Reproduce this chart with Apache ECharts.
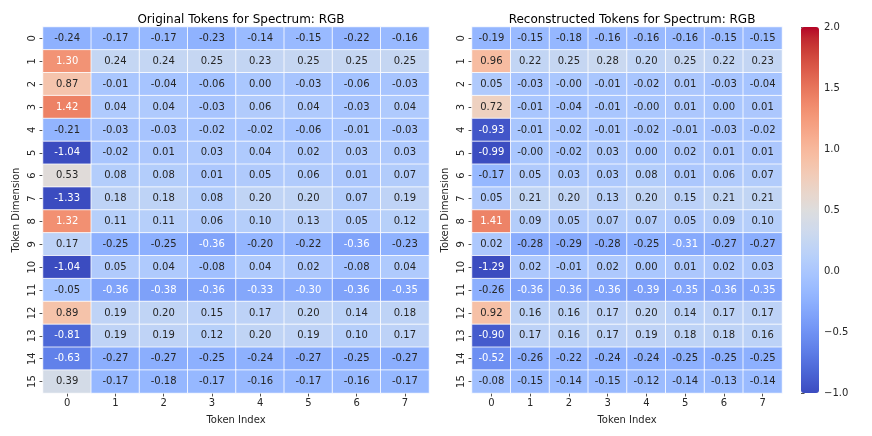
<!DOCTYPE html>
<html>
<head>
<meta charset="utf-8">
<script src="https://cdn.jsdelivr.net/npm/echarts@6/dist/echarts.min.js"></script>
<style>
  html, body { margin: 0; padding: 0; background: #fff; }
  #chart { width: 872px; height: 436px; }
</style>
</head>
<body>
<div id="chart"></div>
<script>
// token index (columns) and token dimension (rows)
var tokenIndex = ['0', '1', '2', '3', '4', '5', '6', '7'];
var tokenDim = ['0', '1', '2', '3', '4', '5', '6', '7', '8', '9', '10', '11', '12', '13', '14', '15'];

// original tokens, one row per dimension
var original = [
  [-0.24, -0.17, -0.17, -0.23, -0.14, -0.15, -0.22, -0.16],
  [1.30, 0.24, 0.24, 0.25, 0.23, 0.25, 0.25, 0.25],
  [0.87, -0.01, -0.04, -0.06, 0.00, -0.03, -0.06, -0.03],
  [1.42, 0.04, 0.04, -0.03, 0.06, 0.04, -0.03, 0.04],
  [-0.21, -0.03, -0.03, -0.02, -0.02, -0.06, -0.01, -0.03],
  [-1.04, -0.02, 0.01, 0.03, 0.04, 0.02, 0.03, 0.03],
  [0.53, 0.08, 0.08, 0.01, 0.05, 0.06, 0.01, 0.07],
  [-1.33, 0.18, 0.18, 0.08, 0.20, 0.20, 0.07, 0.19],
  [1.32, 0.11, 0.11, 0.06, 0.10, 0.13, 0.05, 0.12],
  [0.17, -0.25, -0.25, -0.36, -0.20, -0.22, -0.36, -0.23],
  [-1.04, 0.05, 0.04, -0.08, 0.04, 0.02, -0.08, 0.04],
  [-0.05, -0.36, -0.38, -0.36, -0.33, -0.30, -0.36, -0.35],
  [0.89, 0.19, 0.20, 0.15, 0.17, 0.20, 0.14, 0.18],
  [-0.81, 0.19, 0.19, 0.12, 0.20, 0.19, 0.10, 0.17],
  [-0.63, -0.27, -0.27, -0.25, -0.24, -0.27, -0.25, -0.27],
  [0.39, -0.17, -0.18, -0.17, -0.16, -0.17, -0.16, -0.17]
];

// reconstructed tokens (-0.001 stands for the cells printed as -0.00)
var reconstructed = [
  [-0.19, -0.15, -0.18, -0.16, -0.16, -0.16, -0.15, -0.15],
  [0.96, 0.22, 0.25, 0.28, 0.20, 0.25, 0.22, 0.23],
  [0.05, -0.03, -0.001, -0.01, -0.02, 0.01, -0.03, -0.04],
  [0.72, -0.01, -0.04, -0.01, -0.001, 0.01, 0.00, 0.01],
  [-0.93, -0.01, -0.02, -0.01, -0.02, -0.01, -0.03, -0.02],
  [-0.99, -0.001, -0.02, 0.03, 0.00, 0.02, 0.01, 0.01],
  [-0.17, 0.05, 0.03, 0.03, 0.08, 0.01, 0.06, 0.07],
  [0.05, 0.21, 0.20, 0.13, 0.20, 0.15, 0.21, 0.21],
  [1.41, 0.09, 0.05, 0.07, 0.07, 0.05, 0.09, 0.10],
  [0.02, -0.28, -0.29, -0.28, -0.25, -0.31, -0.27, -0.27],
  [-1.29, 0.02, -0.01, 0.02, 0.00, 0.01, 0.02, 0.03],
  [-0.26, -0.36, -0.36, -0.36, -0.39, -0.35, -0.36, -0.35],
  [0.92, 0.16, 0.16, 0.17, 0.20, 0.14, 0.17, 0.17],
  [-0.90, 0.17, 0.16, 0.17, 0.19, 0.18, 0.18, 0.16],
  [-0.52, -0.26, -0.22, -0.24, -0.24, -0.25, -0.25, -0.25],
  [-0.08, -0.15, -0.14, -0.15, -0.12, -0.14, -0.13, -0.14]
];

// matplotlib coolwarm
var coolwarm = [
  '#3b4cc0', '#445acc', '#4d68d7', '#5775e1', '#6282ea', '#6c8ef1', '#779af7', '#82a5fb',
  '#8db0fe', '#98b9ff', '#a3c2ff', '#aec9fd', '#b8d0f9', '#c2d5f4', '#ccd9ee', '#d5dbe6',
  '#dddddd', '#e5d8d1', '#ecd3c5', '#f1ccb8', '#f5c4ac', '#f7bba0', '#f7b194', '#f6a587',
  '#f49a7b', '#f18d6f', '#ec7f63', '#e57058', '#de604d', '#d55042', '#cb3e38', '#c0282f',
  '#b40426'
];

var font = 'DejaVu Sans';

function toCells(rows) {
  var out = [];
  rows.forEach(function (row, y) {
    row.forEach(function (v, x) {
      var dark = v < -0.295 || v > 1.1;
      out.push({
        value: [x, y, v],
        label: { color: dark ? '#ffffff' : '#262626' }
      });
    });
  });
  return out;
}

function minus(s) {
  return String(s).replace('-', '\u2212');
}

var grids = [
  { left: 43, top: 27, width: 386, height: 366 },
  { left: 472, top: 27, width: 310, height: 366 },
  { left: 801, top: 27, width: 18, height: 366 }
];

function xAxisFor(i) {
  return {
    type: 'category',
    gridIndex: i,
    data: tokenIndex,
    position: 'bottom',
    name: 'Token Index',
    nameLocation: 'middle',
    nameGap: 22,
    nameTextStyle: { fontFamily: font, fontSize: 10, color: '#262626' },
    axisLine: { show: false },
    axisTick: { show: true, alignWithLabel: true, length: 3.5, lineStyle: { color: '#262626', width: 0.8 } },
    axisLabel: { fontFamily: font, fontSize: 10, color: '#262626', margin: 5 },
    splitArea: { show: false }
  };
}

function yAxisFor(i) {
  return {
    type: 'category',
    gridIndex: i,
    data: tokenDim,
    inverse: true,
    name: 'Token Dimension',
    nameLocation: 'middle',
    nameGap: 22,
    nameRotate: 90,
    nameTextStyle: { fontFamily: font, fontSize: 10, color: '#262626' },
    axisLine: { show: false },
    axisTick: { show: true, alignWithLabel: true, length: 3.5, lineStyle: { color: '#262626', width: 0.8 } },
    axisLabel: { fontFamily: font, fontSize: 10, color: '#262626', rotate: 90, margin: 6 }
  };
}

function heatSeries(i, rows) {
  return {
    type: 'heatmap',
    xAxisIndex: i,
    yAxisIndex: i,
    data: toCells(rows),
    itemStyle: { borderColor: '#ffffff', borderWidth: 0.8 },
    label: {
      show: true,
      fontFamily: font,
      fontSize: 10,
      formatter: function (p) { return p.value[2].toFixed(2); }
    },
    emphasis: { disabled: true }
  };
}

var chart = echarts.init(document.getElementById('chart'));

var option = {
  backgroundColor: '#ffffff',
  animation: false,
  title: [
    {
      text: 'Original Tokens for Spectrum: RGB',
      left: 236, top: 9, textAlign: 'center',
      textStyle: { fontFamily: font, fontSize: 12, fontWeight: 'normal', color: '#000' }
    },
    {
      text: 'Reconstructed Tokens for Spectrum: RGB',
      left: 627, top: 9, textAlign: 'center',
      textStyle: { fontFamily: font, fontSize: 12, fontWeight: 'normal', color: '#000' }
    }
  ],
  grid: grids,
  xAxis: [
    xAxisFor(0),
    xAxisFor(1),
    { type: 'value', gridIndex: 2, show: false, min: 0, max: 1 }
  ],
  yAxis: [
    yAxisFor(0),
    yAxisFor(1),
    {
      type: 'value',
      gridIndex: 2,
      position: 'right',
      min: -1,
      max: 2,
      interval: 0.5,
      splitLine: { show: false },
      axisLine: { show: false },
      axisTick: { show: true, length: 3.5, lineStyle: { color: '#262626', width: 0.8 } },
      axisLabel: {
        fontFamily: font, fontSize: 10, color: '#262626', margin: 5,
        formatter: function (v) { return minus(v.toFixed(1)); }
      }
    }
  ],
  visualMap: {
    type: 'continuous',
    seriesIndex: [0, 1],
    min: -1,
    max: 2,
    calculable: false,
    realtime: false,
    left: 801,
    top: 27,
    padding: 0,
    itemWidth: 18,
    itemHeight: 366,
    text: null,
    hoverLink: false,
    inRange: { color: coolwarm }
  },
  series: [
    heatSeries(0, original),
    heatSeries(1, reconstructed),
    { type: 'line', xAxisIndex: 2, yAxisIndex: 2, data: [], silent: true }
  ]
};

chart.setOption(option);
</script>
</body>
</html>
